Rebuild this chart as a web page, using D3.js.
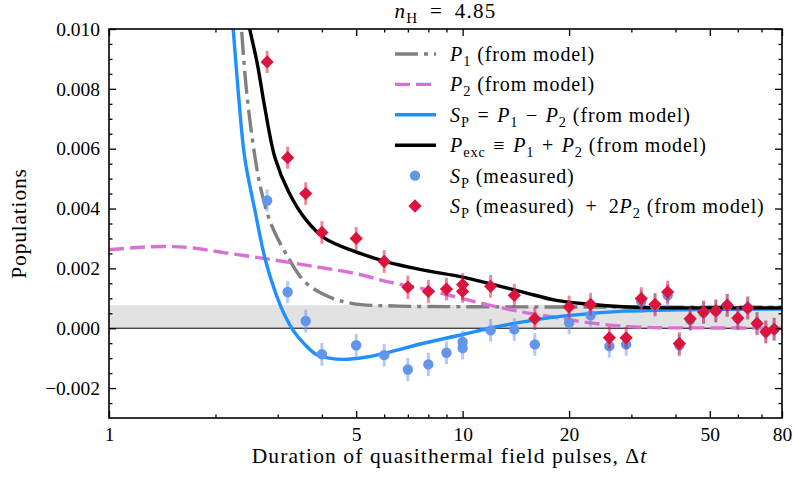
<!DOCTYPE html>
<html>
<head>
<meta charset="utf-8">
<script src="https://cdn.jsdelivr.net/npm/d3@7"></script>
<style>
  body { margin: 0; background: #fff; }
  svg text { font-family: "Liberation Serif", "Times New Roman", serif; }
</style>
</head>
<body>
<svg id="chart" width="793" height="479" font-family="'Liberation Serif', serif"></svg>
<script>
// measured points (pulse duration, S_P measured, S_P + 2 P2, error)
var tMeas = [2.8, 3.2, 3.6, 4, 5, 6, 7, 8, 9, 10, 10, 12, 14, 16, 20, 23, 26, 29, 32, 35, 38, 41, 44, 48, 52, 56, 60, 64, 68, 72, 76];
var spMeas = [0.00427, 0.00121, 0.00024, -0.00087, -0.00057, -0.0009, -0.00138, -0.00121, -0.00082, -0.00046, -0.00066, -0.00007, -0.00004, -0.00054, 0.00018, 0.00043, -0.0006, -0.00054, 0.00089, 0.00076, 0.0011, -0.00057, 0.00028, 0.00052, 0.00057, 0.00076, 0.00033, 0.00067, 0.00015, -0.00013, -0.00004];
var spPlus2P2 = [0.0089, 0.0057, 0.0045, 0.0032, 0.0030, 0.00223, 0.00137, 0.00123, 0.00131, 0.00146, 0.00123, 0.0014, 0.0011, 0.00032, 0.00071, 0.0008, -0.00032, -0.00032, 0.00099, 0.0008, 0.00121, -0.00051, 0.00032, 0.00054, 0.00058, 0.00077, 0.00034, 0.00068, 0.00016, -0.00012, -0.00003];
var errMeas = [0.00037, 0.00037, 0.00038, 0.00038, 0.00038, 0.00038, 0.00039, 0.00039, 0.00038, 0.00038, 0.00038, 0.00038, 0.00038, 0.00038, 0.00038, 0.00038, 0.00038, 0.00038, 0.00038, 0.00038, 0.00038, 0.00038, 0.00038, 0.00038, 0.00038, 0.00038, 0.00038, 0.00038, 0.00038, 0.00038, 0.00038];

// model curves
var tP1 = [2.335, 2.37, 2.45, 2.59, 2.7, 2.88, 3.22, 3.58, 4.08, 4.86, 6.6, 10, 20, 40, 80];
var p1Model = [0.0112, 0.0100, 0.0079, 0.00568, 0.00456, 0.00345, 0.00234, 0.00155, 0.00111, 0.00083, 0.00074, 0.00072, 0.00071, 0.0007, 0.0007];
var tP2 = [1, 1.2, 1.42, 1.7, 2.13, 2.79, 3.86, 4.97, 6.22, 7.7, 10, 11.9, 14.8, 18.4, 22.9, 28.4, 35, 50, 80];
var p2Model = [0.00262, 0.0027, 0.00273, 0.00269, 0.00252, 0.00232, 0.00205, 0.00183, 0.00154, 0.00132, 0.00099, 0.00077, 0.00054, 0.00036, 0.00018, 0.00007, 0.00002, 0.00001, 0];
var tSp = [2.2, 2.245, 2.32, 2.42, 2.59, 2.76, 2.95, 3.15, 3.33, 3.55, 3.86, 4.2, 4.6, 5.3, 6.2, 7.7, 10, 11.9, 14.8, 18.4, 22.9, 28.4, 35, 50, 80];
var spModel = [0.0112, 0.0100, 0.0079, 0.0057, 0.0039, 0.00234, 0.00122, 0.0004, -0.0001, -0.0005, -0.00088, -0.001, -0.00104, -0.00097, -0.0008, -0.00051, -0.00021, 0, 0.00021, 0.00038, 0.00049, 0.00057, 0.0006, 0.00063, 0.00064];
var tExc = [2.38, 2.5, 2.63, 2.76, 2.95, 3.22, 3.58, 4.08, 4.97, 6.1, 7.7, 10, 11.9, 14.8, 18.4, 22.9, 28.4, 35, 50, 80];
var pExcModel = [0.0112, 0.0100, 0.0088, 0.00735, 0.00568, 0.00456, 0.00367, 0.003, 0.00256, 0.00222, 0.00195, 0.00171, 0.00149, 0.00121, 0.00093, 0.0008, 0.00072, 0.00069, 0.00068, 0.00068];

var bandTop = 0.00077;

var xMajor = [1, 5, 10, 20, 50, 80];
var xMinor = [2, 3, 4, 6, 7, 8, 9, 30, 40, 60, 70];
var yMajor = [-0.002, 0, 0.002, 0.004, 0.006, 0.008, 0.010];
var yMinor = [-0.0025, -0.0015, -0.001, -0.0005, 0.0005, 0.001, 0.0015, 0.0025, 0.003, 0.0035, 0.0045, 0.005, 0.0055, 0.0065, 0.007, 0.0075, 0.0085, 0.009, 0.0095];

var serif = "'Liberation Serif', 'Times New Roman', serif";
var svg = d3.select("#chart");
var plotL = 109, plotR = 782, plotT = 29, plotB = 418;

var x = d3.scaleLog().domain([1, 80]).range([plotL, plotR]);
var y = d3.scaleLinear().domain([-0.003, 0.010]).range([plotB, plotT]);

svg.append("clipPath").attr("id", "plotclip")
  .append("rect")
  .attr("x", plotL).attr("y", plotT)
  .attr("width", plotR - plotL).attr("height", plotB - plotT);

var plot = svg.append("g").attr("clip-path", "url(#plotclip)");

// grey band and zero line
plot.append("rect")
  .attr("x", plotL).attr("width", plotR - plotL)
  .attr("y", y(bandTop)).attr("height", y(0) - y(bandTop))
  .attr("fill", "#e2e2e2");
plot.append("line")
  .attr("x1", plotL).attr("x2", plotR)
  .attr("y1", y(0)).attr("y2", y(0))
  .attr("stroke", "#000").attr("stroke-width", 1);

var line = d3.line()
  .x(function(d) { return x(d[0]); })
  .y(function(d) { return y(d[1]); })
  .curve(d3.curveCatmullRom.alpha(0.5));

function curve(ts, vs, color, dash) {
  var pts = ts.map(function(t, i) { return [t, vs[i]]; });
  plot.append("path")
    .datum(pts)
    .attr("d", line)
    .attr("fill", "none")
    .attr("stroke", color)
    .attr("stroke-width", 3.4)
    .attr("stroke-dasharray", dash);
}

curve(tP1, p1Model, "#808080", "23,6,4,6");
curve(tP2, p2Model, "#da70d6", "15,6");
curve(tSp, spModel, "#1e90ff", null);
curve(tExc, pExcModel, "#000000", null);

// measured S_P
var idx = d3.range(tMeas.length);
plot.append("g").selectAll("line")
  .data(idx).enter().append("line")
  .attr("x1", function(i) { return x(tMeas[i]); })
  .attr("x2", function(i) { return x(tMeas[i]); })
  .attr("y1", function(i) { return y(spMeas[i] - errMeas[i]); })
  .attr("y2", function(i) { return y(spMeas[i] + errMeas[i]); })
  .attr("stroke", "#6495ed").attr("stroke-opacity", 0.5)
  .attr("stroke-width", 3);
plot.append("g").selectAll("circle")
  .data(idx).enter().append("circle")
  .attr("cx", function(i) { return x(tMeas[i]); })
  .attr("cy", function(i) { return y(spMeas[i]); })
  .attr("r", 5.2)
  .attr("fill", "#6495ed");

// measured S_P + 2 P2
plot.append("g").selectAll("line")
  .data(idx).enter().append("line")
  .attr("x1", function(i) { return x(tMeas[i]); })
  .attr("x2", function(i) { return x(tMeas[i]); })
  .attr("y1", function(i) { return y(spPlus2P2[i] - errMeas[i]); })
  .attr("y2", function(i) { return y(spPlus2P2[i] + errMeas[i]); })
  .attr("stroke", "#dc143c").attr("stroke-opacity", 0.5)
  .attr("stroke-width", 3);
var diamond = d3.symbol().type(d3.symbolSquare).size(88);
plot.append("g").selectAll("path")
  .data(idx).enter().append("path")
  .attr("d", diamond)
  .attr("transform", function(i) {
    return "translate(" + x(tMeas[i]) + "," + y(spPlus2P2[i]) + ") rotate(45)";
  })
  .attr("fill", "#dc143c");

// axes, ticks pointing inward on all four sides
function styleAxis(g) {
  g.attr("font-family", serif);
  g.select(".domain").remove();
  g.selectAll("line").attr("stroke", "#000").attr("stroke-width", 1.3);
  g.selectAll("text").attr("font-size", 19.5).attr("fill", "#000")
    .style("font-family", serif);
}

var fmtY = d3.format(".3f");

svg.append("g").attr("transform", "translate(0," + plotB + ")")
  .call(d3.axisBottom(x).tickValues(xMajor).tickFormat(d3.format("d")).tickSize(-7).tickPadding(9))
  .call(styleAxis);
svg.append("g").attr("transform", "translate(0," + plotB + ")")
  .call(d3.axisBottom(x).tickValues(xMinor).tickFormat("").tickSize(-3.5))
  .call(styleAxis);
svg.append("g").attr("transform", "translate(0," + plotT + ")")
  .call(d3.axisTop(x).tickValues(xMajor).tickFormat("").tickSize(-7))
  .call(styleAxis);
svg.append("g").attr("transform", "translate(0," + plotT + ")")
  .call(d3.axisTop(x).tickValues(xMinor).tickFormat("").tickSize(-3.5))
  .call(styleAxis);

svg.append("g").attr("transform", "translate(" + plotL + ",0)")
  .call(d3.axisLeft(y).tickValues(yMajor).tickFormat(fmtY).tickSize(-7).tickPadding(9))
  .call(styleAxis);
svg.append("g").attr("transform", "translate(" + plotL + ",0)")
  .call(d3.axisLeft(y).tickValues(yMinor).tickFormat("").tickSize(-3.5))
  .call(styleAxis);
svg.append("g").attr("transform", "translate(" + plotR + ",0)")
  .call(d3.axisRight(y).tickValues(yMajor).tickFormat("").tickSize(-7))
  .call(styleAxis);
svg.append("g").attr("transform", "translate(" + plotR + ",0)")
  .call(d3.axisRight(y).tickValues(yMinor).tickFormat("").tickSize(-3.5))
  .call(styleAxis);

svg.append("rect")
  .attr("x", plotL).attr("y", plotT)
  .attr("width", plotR - plotL).attr("height", plotB - plotT)
  .attr("fill", "none").attr("stroke", "#000").attr("stroke-width", 1.6);

// text helpers: parts are [text, style] with style "i" italic, "sub" subscript
function richText(sel, parts) {
  var shift = 0;
  sel.style("font-family", serif);
  parts.forEach(function(p) {
    var ts = sel.append("tspan").text(p[0]);
    var s = p[1] || "";
    var want = (s === "sub") ? 5 : 0;
    if (want !== shift) { ts.attr("dy", want - shift); shift = want; }
    if (s === "i") ts.attr("font-style", "italic");
    if (s === "sub") ts.attr("font-size", "0.72em");
  });
}

var title = svg.append("text")
  .attr("x", (plotL + plotR) / 2).attr("y", 18)
  .attr("text-anchor", "middle").attr("font-size", 21)
  .attr("letter-spacing", 1.2);
richText(title, [["n", "i"], ["H", "sub"], ["\u2002=\u20024.85", ""]]);

svg.append("text")
  .attr("x", (plotL + plotR) / 2 + 4).attr("y", 463)
  .attr("text-anchor", "middle").attr("font-size", 21.5)
  .attr("letter-spacing", 1.1)
  .call(richText, [["Duration of quasithermal field pulses, Δ", ""], ["t", "i"]]);

svg.append("text")
  .attr("transform", "translate(26," + ((plotT + plotB) / 2) + ") rotate(-90)")
  .attr("text-anchor", "middle").attr("font-size", 21.5)
  .attr("letter-spacing", 0.8)
  .style("font-family", serif)
  .text("Populations");

// legend
var legendRows = [
  { kind: "line", color: "#808080", dash: "23,6,4,6",
    parts: [["P", "i"], ["1", "sub"], [" (from model)", ""]] },
  { kind: "line", color: "#da70d6", dash: "15,6",
    parts: [["P", "i"], ["2", "sub"], [" (from model)", ""]] },
  { kind: "line", color: "#1e90ff", dash: null,
    parts: [["S", "i"], ["P", "sub"], ["\u2004=\u2004", ""], ["P", "i"], ["1", "sub"], ["\u2004−\u2004", ""], ["P", "i"], ["2", "sub"], [" (from model)", ""]] },
  { kind: "line", color: "#000000", dash: null,
    parts: [["P", "i"], ["exc", "sub"], ["\u2004≡\u2004", ""], ["P", "i"], ["1", "sub"], ["\u2004+\u2004", ""], ["P", "i"], ["2", "sub"], [" (from model)", ""]] },
  { kind: "dot", color: "#6495ed",
    parts: [["S", "i"], ["P", "sub"], [" (measured)", ""]] },
  { kind: "diamond", color: "#dc143c",
    parts: [["S", "i"], ["P", "sub"], [" (measured)\u2002+\u20022", ""], ["P", "i"], ["2", "sub"], [" (from model)", ""]] }
];

var legend = svg.append("g");
legendRows.forEach(function(r, i) {
  var ry = 54 + i * 30.4;
  if (r.kind === "line") {
    legend.append("line")
      .attr("x1", 395).attr("x2", 436).attr("y1", ry).attr("y2", ry)
      .attr("stroke", r.color).attr("stroke-width", 3.4)
      .attr("stroke-dasharray", r.dash);
  } else if (r.kind === "dot") {
    legend.append("circle").attr("cx", 415).attr("cy", ry).attr("r", 5.2).attr("fill", r.color);
  } else {
    legend.append("path").attr("d", diamond)
      .attr("transform", "translate(415," + ry + ") rotate(45)")
      .attr("fill", r.color);
  }
  var t = legend.append("text").attr("x", 450).attr("y", ry + 7)
    .attr("font-size", 20).attr("letter-spacing", 0.9);
  richText(t, r.parts);
});
</script>
</body>
</html>
